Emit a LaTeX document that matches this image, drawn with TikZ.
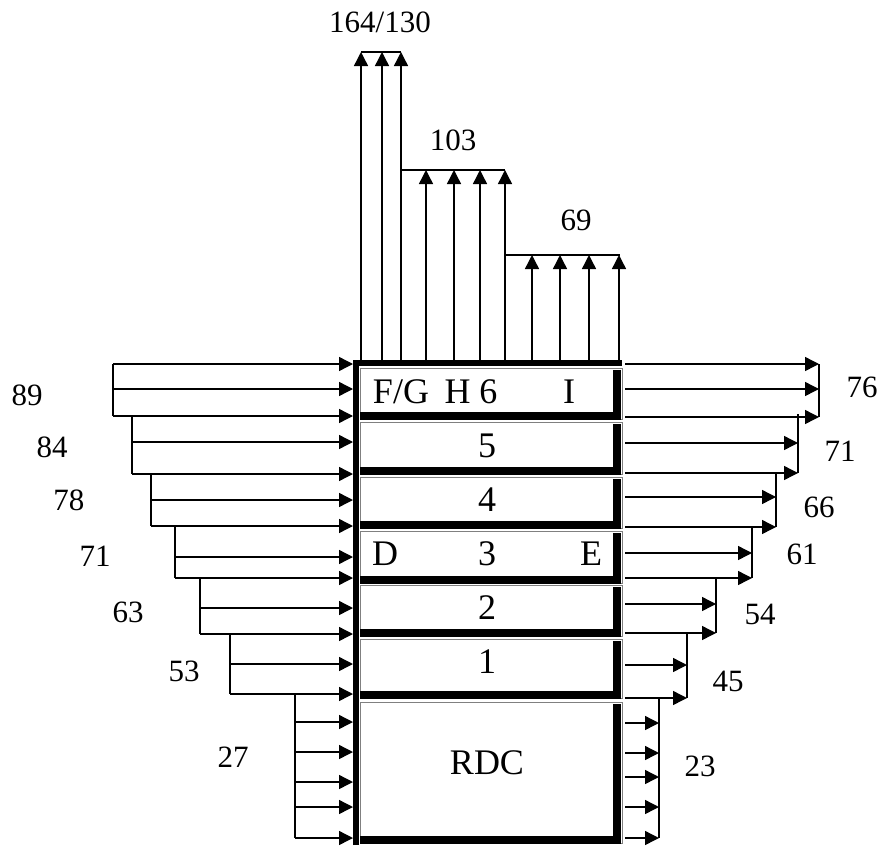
\documentclass[tikz,border=0pt]{standalone}
\usepackage{fontspec}
\setmainfont{Liberation Serif}
\usetikzlibrary{arrows.meta}

\begin{document}
\begin{tikzpicture}[x=0.5pt,y=-0.5pt,
    load/.style={-{Triangle[length=7pt,width=7pt]}, line width=0.7pt},
    lbl/.style={font=\fontsize{15.5}{18}\selectfont, inner sep=0pt},
    flr/.style={font=\fontsize{18}{21}\selectfont, inner sep=0pt}]
    \useasboundingbox (0,0) rectangle (878,846);
    % Floors
    \foreach \t/\b in {368/416, 422/471, 477/525, 531/580, 585/633, 639/695, 702/840} {
        \draw[gray, line width=0.5pt] (360,\t) rectangle (622,\b+3);
        \draw[line width=4pt] (617,\t+2) -- (617,\b) -- (360,\b);
    }
    % Building frame
    \draw[line width=3pt] (356,845) -- (356,363) -- (622,363);
    \node[flr] (fg) at (401,392) {F/G};
    \node[flr] (h6) at (471,392) {H 6};
    \node[flr] (i) at (569,392) {I};
    \node[flr] (f5) at (487,446) {5};
    \node[flr] (f4) at (487,500) {4};
    \node[flr] (d) at (385,554) {D};
    \node[flr] (f3) at (487,554) {3};
    \node[flr] (e) at (591,554) {E};
    \node[flr] (f2) at (487,608) {2};
    \node[flr] (f1) at (487,662) {1};
    \node[flr] (rdc) at (487,763) {RDC};
    % Loads on the left
    \draw[line width=0.7pt] (113,364) -- (113,416);
    \foreach \y in {364,389,416} \draw[load] (113,\y) -- (353,\y);
    \foreach \xg/\yt/\yb/\ys in {132/416/474/{442,474}, 151/474/526/{500,526},
        175/526/578/{557,578}, 200/578/634/{608,634}, 230/634/694/{664,694},
        295/694/838/{722,752,782,807,838}} {
        \draw[line width=0.7pt] (\xg,\yt) -- (\xg,\yb);
        \foreach \y in \ys \draw[load] (\xg,\y) -- (353,\y);
    }
    \node[lbl] (l89) at (27,395) {89};
    \node[lbl] (l84) at (52,447) {84};
    \node[lbl] (l78) at (69,500) {78};
    \node[lbl] (l71) at (95,556) {71};
    \node[lbl] (l63) at (128,612) {63};
    \node[lbl] (l53) at (184,671) {53};
    \node[lbl] (l27) at (233,757) {27};
    % Loads on the right
    \draw[line width=0.7pt] (819,364) -- (819,417);
    \foreach \y in {364,389,417} \draw[load] (625,\y) -- (819,\y);
    \foreach \xg/\yt/\yb/\ys in {798/414/473/{443,473}, 776/473/527/{497,527},
        752/527/578/{553,578}, 716/578/633/{604,633}, 687/633/698/{665,698},
        659/698/838/{723,753,777,807,838}} {
        \draw[line width=0.7pt] (\xg,\yt) -- (\xg,\yb);
        \foreach \y in \ys \draw[load] (625,\y) -- (\xg,\y);
    }
    \node[lbl] (r76) at (862,387) {76};
    \node[lbl] (r71) at (840,451) {71};
    \node[lbl] (r66) at (819,507) {66};
    \node[lbl] (r61) at (802,554) {61};
    \node[lbl] (r54) at (760,614) {54};
    \node[lbl] (r45) at (728,681) {45};
    \node[lbl] (r23) at (700,766) {23};
    % Loads on top
    \draw[line width=0.7pt] (361,52) -- (401,52);
    \foreach \x in {361,382,401} \draw[load] (\x,363) -- (\x,52);
    \draw[line width=0.7pt] (401,170) -- (505,170);
    \foreach \x in {426,454,480,505} \draw[load] (\x,363) -- (\x,170);
    \draw[line width=0.7pt] (505,255) -- (620,255);
    \foreach \x in {532,560,589,619} \draw[load] (\x,363) -- (\x,255);
    \node[lbl] (t164) at (380,22) {164/130};
    \node[lbl] (t103) at (453,140) {103};
    \node[lbl] (t69) at (576,220) {69};
\end{tikzpicture}
\end{document}
